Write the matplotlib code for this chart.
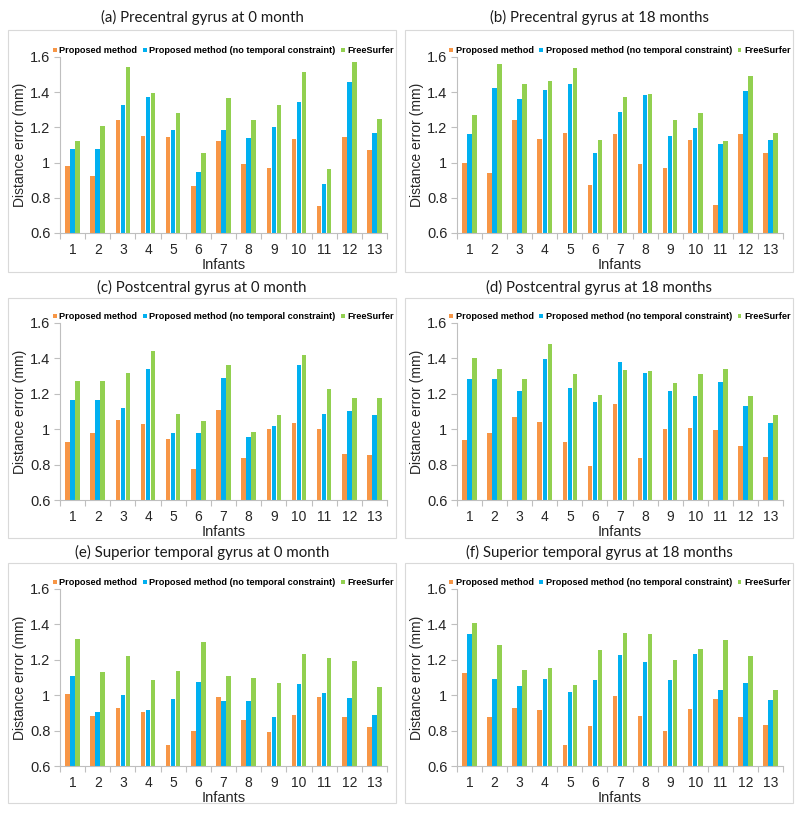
import matplotlib
matplotlib.use("Agg")
import matplotlib.pyplot as plt
from matplotlib.patches import Rectangle
import numpy as np

infants = [str(i) for i in range(1, 14)]
series_names = ["Proposed method", "Proposed method (no temporal constraint)", "FreeSurfer"]
colors = ["#F79646", "#00B0F0", "#92D050"]

titles = [
    "(a) Precentral gyrus at 0 month",
    "(b) Precentral gyrus at 18 months",
    "(c) Postcentral gyrus at 0 month",
    "(d) Postcentral gyrus at 18 months",
    "(e) Superior temporal gyrus at 0 month",
    "(f) Superior temporal gyrus at 18 months",
]

a_proposed = [0.98, 0.925, 1.24, 1.15, 1.145, 0.865, 1.125, 0.99, 0.97, 1.135, 0.755, 1.145, 1.07]
a_notemp = [1.075, 1.075, 1.33, 1.37, 1.185, 0.945, 1.185, 1.14, 1.205, 1.345, 0.88, 1.46, 1.17]
a_freesurfer = [1.12, 1.21, 1.545, 1.395, 1.28, 1.055, 1.365, 1.24, 1.325, 1.515, 0.965, 1.57, 1.25]

b_proposed = [1.0, 0.94, 1.24, 1.135, 1.17, 0.875, 1.16, 0.99, 0.97, 1.13, 0.76, 1.16, 1.055]
b_notemp = [1.165, 1.425, 1.36, 1.415, 1.445, 1.055, 1.29, 1.385, 1.15, 1.195, 1.105, 1.405, 1.13]
b_freesurfer = [1.27, 1.56, 1.445, 1.465, 1.535, 1.13, 1.37, 1.39, 1.24, 1.28, 1.125, 1.49, 1.17]

c_proposed = [0.925, 0.98, 1.05, 1.03, 0.945, 0.775, 1.11, 0.84, 1.0, 1.035, 1.0, 0.86, 0.855]
c_notemp = [1.165, 1.165, 1.12, 1.34, 0.98, 0.98, 1.29, 0.955, 1.02, 1.365, 1.085, 1.105, 1.08]
c_freesurfer = [1.27, 1.27, 1.32, 1.44, 1.085, 1.045, 1.36, 0.985, 1.08, 1.42, 1.225, 1.175, 1.175]

d_proposed = [0.94, 0.98, 1.07, 1.04, 0.93, 0.79, 1.14, 0.84, 1.0, 1.005, 0.995, 0.905, 0.845]
d_notemp = [1.285, 1.285, 1.215, 1.395, 1.235, 1.155, 1.38, 1.32, 1.215, 1.19, 1.265, 1.13, 1.035]
d_freesurfer = [1.405, 1.34, 1.285, 1.48, 1.31, 1.195, 1.335, 1.33, 1.26, 1.31, 1.34, 1.185, 1.08]

e_proposed = [1.005, 0.885, 0.93, 0.905, 0.72, 0.8, 0.99, 0.86, 0.79, 0.89, 0.99, 0.875, 0.82]
e_notemp = [1.11, 0.905, 1.0, 0.915, 0.98, 1.075, 0.97, 0.965, 0.875, 1.065, 1.015, 0.985, 0.89]
e_freesurfer = [1.32, 1.13, 1.22, 1.085, 1.135, 1.30, 1.11, 1.1, 1.07, 1.235, 1.21, 1.195, 1.045]

f_proposed = [1.125, 0.875, 0.93, 0.915, 0.72, 0.825, 0.995, 0.885, 0.8, 0.92, 0.98, 0.875, 0.83]
f_notemp = [1.345, 1.09, 1.05, 1.09, 1.02, 1.085, 1.225, 1.19, 1.085, 1.235, 1.03, 1.07, 0.975]
f_freesurfer = [1.41, 1.285, 1.145, 1.155, 1.06, 1.255, 1.35, 1.345, 1.2, 1.26, 1.31, 1.22, 1.03]

panels = [
    (a_proposed, a_notemp, a_freesurfer),
    (b_proposed, b_notemp, b_freesurfer),
    (c_proposed, c_notemp, c_freesurfer),
    (d_proposed, d_notemp, d_freesurfer),
    (e_proposed, e_notemp, e_freesurfer),
    (f_proposed, f_notemp, f_freesurfer),
]

yticks = [0.6, 0.8, 1.0, 1.2, 1.4, 1.6]
ytick_labels = ["0.6", "0.8", "1", "1.2", "1.4", "1.6"]

W, H = 800, 814
fig = plt.figure(figsize=(W / 100, H / 100), dpi=100)

# pixel layout per row: (box_top, box_bottom, axis_top(1.6), axis_bottom(0.6), title_y)
rows = [(30, 272, 57, 233, 17), (298, 538, 323, 500, 287), (563, 803, 589, 766, 552)]
# per column: (box_left, box_right, axis_left, axis_right)
cols = [(8, 396, 60, 387), (405, 793, 457, 783)]

label_font = "Liberation Sans"
title_font = "Lato"

k = 0
for r, (bt, bb, at, ab, ty) in enumerate(rows):
    for c, (bl, br, al, ar) in enumerate(cols):
        data = panels[k]
        fig.patches.append(Rectangle((bl / W, 1 - bb / H), (br - bl) / W, (bb - bt) / H,
                                     transform=fig.transFigure, fill=False,
                                     edgecolor="#D9D9D9", linewidth=0.8))
        ax = fig.add_axes([al / W, 1 - ab / H, (ar - al) / W, (ab - at) / H])
        x = np.arange(len(infants))
        width = 0.18
        offsets = [-0.2, 0.0, 0.2]
        for vals, off, col, name in zip(data, offsets, colors, series_names):
            ax.bar(x + off, np.array(vals) - 0.6, width, bottom=0.6, color=col,
                   label=name, linewidth=0)
        ax.set_ylim(0.6, 1.6)
        ax.set_xlim(-0.5, len(infants) - 0.5)
        ax.set_yticks(yticks)
        ax.set_yticklabels(ytick_labels, fontsize=10.5, family=label_font, color="#262626")
        ax.set_xticks(x)
        ax.set_xticklabels(infants, fontsize=10, family=label_font, color="#262626")
        ax.tick_params(axis="x", length=0, pad=7)
        ax.tick_params(axis="y", length=4, color="#BFBFBF", width=0.8, pad=3)
        ax.set_xticks(np.arange(-0.5, len(infants), 1.0), minor=True)
        ax.tick_params(axis="x", which="minor", length=4, color="#BFBFBF", width=0.8)
        for s in ["top", "right"]:
            ax.spines[s].set_visible(False)
        for s in ["left", "bottom"]:
            ax.spines[s].set_color("#BFBFBF")
            ax.spines[s].set_linewidth(0.8)
        ax.set_xlabel("Infants", fontsize=10.5, family=label_font, color="#262626", labelpad=1)
        ax.set_ylabel("Distance error (mm)", fontsize=10, family=label_font, color="#262626", labelpad=2)
        ax.set_facecolor("none")
        ax.legend(loc="lower center", bbox_to_anchor=(0.5, 1.01), ncol=3, frameon=False,
                  prop={"family": label_font, "weight": "bold", "size": 6.6},
                  handlelength=0.4, handleheight=0.4, handletextpad=0.3,
                  columnspacing=0.6, borderaxespad=0, borderpad=0)
        cx = (bl + br) / 2 / W
        fig.text(cx, 1 - ty / H, titles[k], ha="center", va="center", fontsize=10.8,
                 family=title_font, color="#1a1a1a")
        k += 1

fig.savefig("out.png", dpi=100, facecolor="white")
